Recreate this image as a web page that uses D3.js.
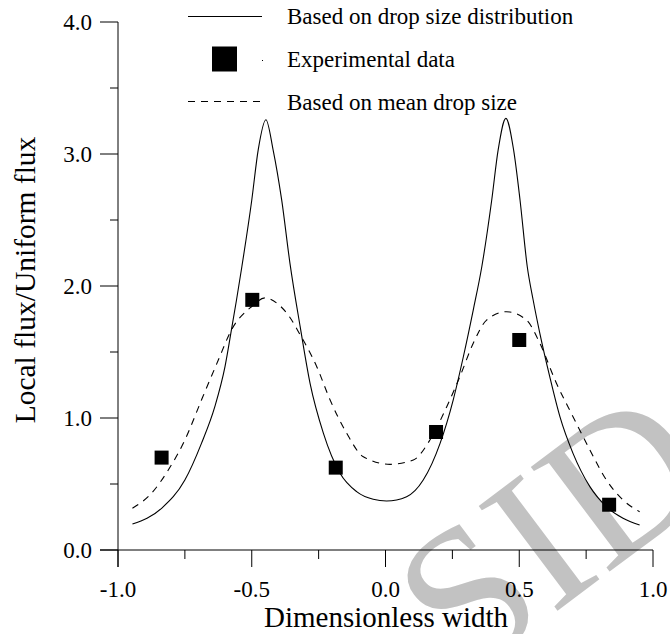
<!DOCTYPE html>
<html>
<head>
<meta charset="utf-8">
<script src="https://cdn.jsdelivr.net/npm/d3@7"></script>
<style>
  body { margin: 0; background: #fff; }
  text { font-family: "Liberation Serif", "Times New Roman", serif; fill: #000; }
</style>
</head>
<body>
<svg id="chart" width="670" height="634"></svg>
<script>
// solid curve: based on drop size distribution
var distX = [-0.946, -0.837, -0.75, -0.688, -0.638, -0.60, -0.576, -0.557, -0.537, -0.50, -0.476, -0.447,
  -0.42, -0.388, -0.357, -0.319, -0.282, -0.232, -0.17, -0.108, -0.046, 0.004, 0.079, 0.141, 0.204,
  0.253, 0.291, 0.328, 0.36, 0.397, 0.421, 0.45, 0.479, 0.503, 0.53, 0.552, 0.577, 0.614, 0.652, 0.701,
  0.764, 0.826, 0.888, 0.95];
var distY = [0.197, 0.316, 0.53, 0.808, 1.086, 1.389, 1.667, 1.894, 2.146, 2.65, 3.03, 3.26,
  3.03, 2.65, 2.17, 1.692, 1.263, 0.884, 0.581, 0.442, 0.384, 0.371, 0.404, 0.53, 0.808,
  1.136, 1.464, 1.818, 2.146, 2.65, 3.03, 3.27, 3.03, 2.65, 2.146, 1.894, 1.641, 1.313, 1.01, 0.732,
  0.48, 0.328, 0.24, 0.189];

// dashed curve: based on mean drop size
var meanX = [-0.946, -0.875, -0.812, -0.75, -0.688, -0.625, -0.576, -0.501, -0.45, -0.40, -0.36, -0.319,
  -0.294, -0.257, -0.207, -0.145, -0.083, 0.017, 0.104, 0.166, 0.229, 0.278, 0.328, 0.378, 0.452, 0.527,
  0.577, 0.639, 0.701, 0.764, 0.826, 0.888, 0.95];
var meanY = [0.316, 0.429, 0.606, 0.833, 1.136, 1.439, 1.667, 1.843, 1.91, 1.86, 1.77, 1.63,
  1.54, 1.389, 1.136, 0.884, 0.707, 0.649, 0.682, 0.833, 1.086, 1.313, 1.566, 1.742, 1.805, 1.742,
  1.566, 1.263, 1.01, 0.758, 0.53, 0.379, 0.29];

// experimental points
var expX = [-0.837, -0.498, -0.186, 0.189, 0.50, 0.836];
var expY = [0.70, 1.895, 0.624, 0.894, 1.591, 0.343];

var xTicks = [-1.0, -0.5, 0.0, 0.5, 1.0];
var xMinor = [-0.75, -0.25, 0.25, 0.75];
var yTicks = [0, 1, 2, 3, 4];
var yMinor = [0.5, 1.5, 2.5, 3.5];
var legendLabels = ["Based on drop size distribution", "Experimental data", "Based on mean drop size"];

var svg = d3.select("#chart");

var x = d3.scaleLinear().domain([-1, 1]).range([118, 653]);
var y = d3.scaleLinear().domain([0, 4]).range([550, 22]);

// watermark, sits behind everything
svg.append("text")
  .attr("transform", "translate(463,682) rotate(-37)")
  .style("font-size", "200px")
  .style("fill", "#c2c2c2")
  .text("SID");

// axes
var gx = svg.append("g").attr("transform", "translate(0,550)");
gx.append("line").attr("x1", 100).attr("x2", x(1)).attr("stroke", "#000");
gx.selectAll(".maj").data(xTicks).enter().append("line")
  .attr("x1", d => x(d)).attr("x2", d => x(d)).attr("y1", 0).attr("y2", 17).attr("stroke", "#000");
gx.selectAll(".min").data(xMinor).enter().append("line")
  .attr("x1", d => x(d)).attr("x2", d => x(d)).attr("y1", 0).attr("y2", 9).attr("stroke", "#000");
gx.selectAll("text").data(xTicks).enter().append("text")
  .attr("x", d => x(d)).attr("y", 46.5)
  .attr("text-anchor", "middle")
  .style("font-size", "23px")
  .text(d => d.toFixed(1));

var gy = svg.append("g").attr("transform", "translate(118,0)");
gy.append("line").attr("y1", y(4)).attr("y2", 567).attr("stroke", "#000");
gy.selectAll(".maj").data(yTicks).enter().append("line")
  .attr("y1", d => y(d)).attr("y2", d => y(d)).attr("x1", -18).attr("x2", 0).attr("stroke", "#000");
gy.selectAll(".min").data(yMinor).enter().append("line")
  .attr("y1", d => y(d)).attr("y2", d => y(d)).attr("x1", -8).attr("x2", 0).attr("stroke", "#000");
gy.selectAll("text").data(yTicks).enter().append("text")
  .attr("x", -26).attr("y", d => y(d) + 7.8)
  .attr("text-anchor", "end")
  .style("font-size", "23px")
  .text(d => d.toFixed(1));

// axis titles
svg.append("text")
  .attr("x", 386).attr("y", 626.5)
  .attr("text-anchor", "middle")
  .style("font-size", "29px")
  .text("Dimensionless width");
svg.append("text")
  .attr("transform", "translate(35,280) rotate(-90)")
  .attr("text-anchor", "middle")
  .style("font-size", "29.5px")
  .text("Local flux/Uniform flux");

// curves
var line = d3.line().x(d => x(d[0])).y(d => y(d[1])).curve(d3.curveMonotoneX);

svg.append("path")
  .datum(d3.zip(distX, distY))
  .attr("d", line)
  .attr("fill", "none").attr("stroke", "#000").attr("stroke-width", 1.1);

svg.append("path")
  .datum(d3.zip(meanX, meanY))
  .attr("d", line)
  .attr("fill", "none").attr("stroke", "#000").attr("stroke-width", 1.1)
  .attr("stroke-dasharray", "7,6");

svg.selectAll(".pt").data(d3.zip(expX, expY)).enter().append("rect")
  .attr("x", d => x(d[0]) - 7).attr("y", d => y(d[1]) - 7)
  .attr("width", 14).attr("height", 14).attr("fill", "#000");

// legend
var leg = svg.append("g");
leg.append("line").attr("x1", 188).attr("x2", 262).attr("y1", 16.5).attr("y2", 16.5)
  .attr("stroke", "#000").attr("stroke-width", 1.1);
leg.append("rect").attr("x", 212).attr("y", 46.5).attr("width", 25).attr("height", 25).attr("fill", "#000");
leg.append("rect").attr("x", 262).attr("y", 60).attr("width", 1).attr("height", 1).attr("fill", "#000");
leg.append("line").attr("x1", 188).attr("x2", 262).attr("y1", 101.5).attr("y2", 101.5)
  .attr("stroke", "#000").attr("stroke-width", 1.1).attr("stroke-dasharray", "7,6");
leg.selectAll("text").data(legendLabels).enter().append("text")
  .attr("x", 287).attr("y", (d, i) => 24 + i * 43)
  .style("font-size", "23px")
  .text(d => d);
</script>
</body>
</html>
